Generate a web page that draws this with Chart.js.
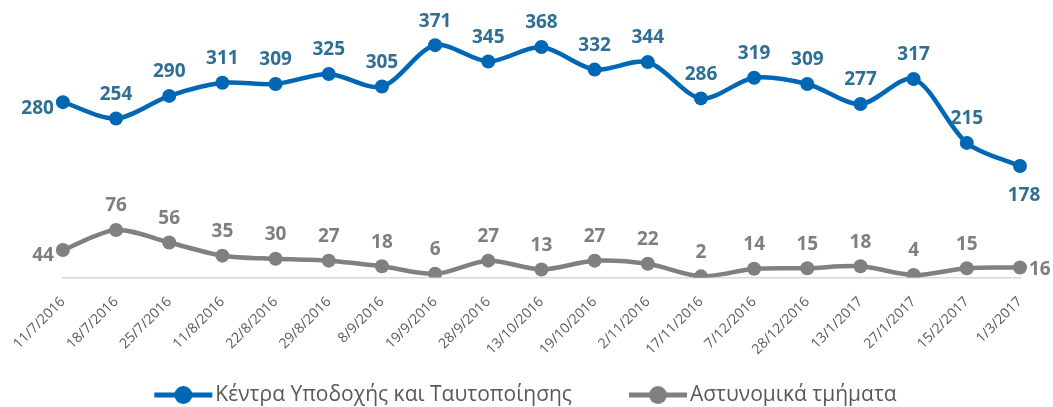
<!DOCTYPE html>
<html>
<head>
<meta charset="utf-8">
<script src="https://cdn.jsdelivr.net/npm/chart.js@4.4.1/dist/chart.umd.min.js"></script>
<style>
  html, body { margin: 0; padding: 0; background: #fff; }
  #wrap { width: 1053px; height: 407px; }
</style>
</head>
<body>
<div id="wrap"><canvas id="chart"></canvas></div>
<script>
const dates = ['11/7/2016', '18/7/2016', '25/7/2016', '11/8/2016', '22/8/2016', '29/8/2016', '8/9/2016',
  '19/9/2016', '28/9/2016', '13/10/2016', '19/10/2016', '2/11/2016', '17/11/2016', '7/12/2016',
  '28/12/2016', '13/1/2017', '27/1/2017', '15/2/2017', '1/3/2017'];
const receptionCentres = [280, 254, 290, 311, 309, 325, 305, 371, 345, 368, 332, 344, 286, 319, 309, 277, 317, 215, 178];
const policeStations = [44, 76, 56, 35, 30, 27, 18, 6, 27, 13, 27, 22, 2, 14, 15, 18, 4, 15, 16];

const BLUE = '#0067b4';
const BLUE_LABEL = '#2f6f94';
const GREY = '#808080';
const GREY_LABEL = '#7f7f7f';
const TEXT = '#595959';
const FONT = '"Open Sans", "Noto Sans", sans-serif';

// where each value label sits relative to its point
const bluePos = receptionCentres.map((v, i) => i === 0 ? 'left' : i === receptionCentres.length - 1 ? 'bottom' : 'top');
const greyPos = policeStations.map((v, i) => i === 0 ? 'left' : i === policeStations.length - 1 ? 'right' : 'top');

const valueLabels = {
  id: 'valueLabels',
  afterDatasetsDraw(chart) {
    const ctx = chart.ctx;
    ctx.save();
    ctx.font = 'bold 19px ' + FONT;
    chart.data.datasets.forEach((ds, di) => {
      const meta = chart.getDatasetMeta(di);
      meta.data.forEach((pt, i) => {
        const pos = ds.labelPos[i];
        let x = pt.x, y = pt.y;
        ctx.fillStyle = ds.labelColor;
        ctx.textBaseline = 'middle';
        if (pos === 'top') { ctx.textAlign = 'center'; y -= 24; }
        else if (pos === 'bottom') { ctx.textAlign = 'center'; y += 30; x += 4; }
        else if (pos === 'left') { ctx.textAlign = 'right'; x -= 9; y += 6; }
        else { ctx.textAlign = 'left'; x += 9; y += 2; }
        ctx.fillText(String(ds.data[i]), x, y);
      });
    });
    ctx.restore();
  }
};

// Excel-style legend: line with a dot, text right next to it
const lineLegend = {
  id: 'lineLegend',
  afterDraw(chart) {
    const ctx = chart.ctx;
    const markW = 58, textGap = 3, itemGap = 57;
    ctx.save();
    ctx.font = '21px ' + FONT;
    const items = chart.data.datasets.map(ds => ({ text: ds.label, color: ds.borderColor, w: ctx.measureText(ds.label).width }));
    const total = items.reduce((s, it) => s + markW + textGap + it.w, 0) + itemGap * (items.length - 1);
    let x = chart.width / 2 - 1 - total / 2;
    const y = chart.height - 12;
    items.forEach(it => {
      ctx.strokeStyle = it.color;
      ctx.lineWidth = 5;
      ctx.beginPath(); ctx.moveTo(x, y); ctx.lineTo(x + markW, y); ctx.stroke();
      ctx.fillStyle = it.color;
      ctx.beginPath(); ctx.arc(x + markW / 2, y, 9, 0, Math.PI * 2); ctx.fill();
      x += markW + textGap;
      ctx.fillStyle = TEXT;
      ctx.textAlign = 'left';
      ctx.textBaseline = 'middle';
      ctx.fillText(it.text, x, y);
      x += it.w + itemGap;
    });
    ctx.restore();
  }
};

new Chart(document.getElementById('chart'), {
  type: 'line',
  data: {
    labels: dates,
    datasets: [
      {
        label: 'Κέντρα Υποδοχής και Ταυτοποίησης',
        data: receptionCentres,
        borderColor: BLUE,
        backgroundColor: BLUE,
        borderWidth: 4.5,
        pointRadius: 7,
        pointHoverRadius: 7,
        pointBorderWidth: 0,
        tension: 0.3,
        labelPos: bluePos,
        labelColor: BLUE_LABEL,
      },
      {
        label: 'Αστυνομικά τμήματα',
        data: policeStations,
        borderColor: GREY,
        backgroundColor: GREY,
        borderWidth: 4.5,
        pointRadius: 7,
        pointHoverRadius: 7,
        pointBorderWidth: 0,
        tension: 0.3,
        labelPos: greyPos,
        labelColor: GREY_LABEL,
      },
    ],
  },
  options: {
    responsive: true,
    maintainAspectRatio: false,
    animation: false,
    layout: { padding: { left: 62, right: 33, top: 27, bottom: 33 } },
    scales: {
      x: {
        offset: false,
        grid: { display: false, drawTicks: false },
        border: { display: true, color: '#d9d9d9', width: 1.5 },
        ticks: {
          color: TEXT,
          font: { family: FONT, size: 14 },
          minRotation: 45,
          maxRotation: 45,
          autoSkip: false,
          padding: 16,
        },
      },
      y: {
        display: false,
        min: 0,
        max: 400,
      },
    },
    plugins: {
      tooltip: { enabled: false },
      legend: { display: false },
    },
  },
  plugins: [valueLabels, lineLegend],
});
</script>
</body>
</html>
